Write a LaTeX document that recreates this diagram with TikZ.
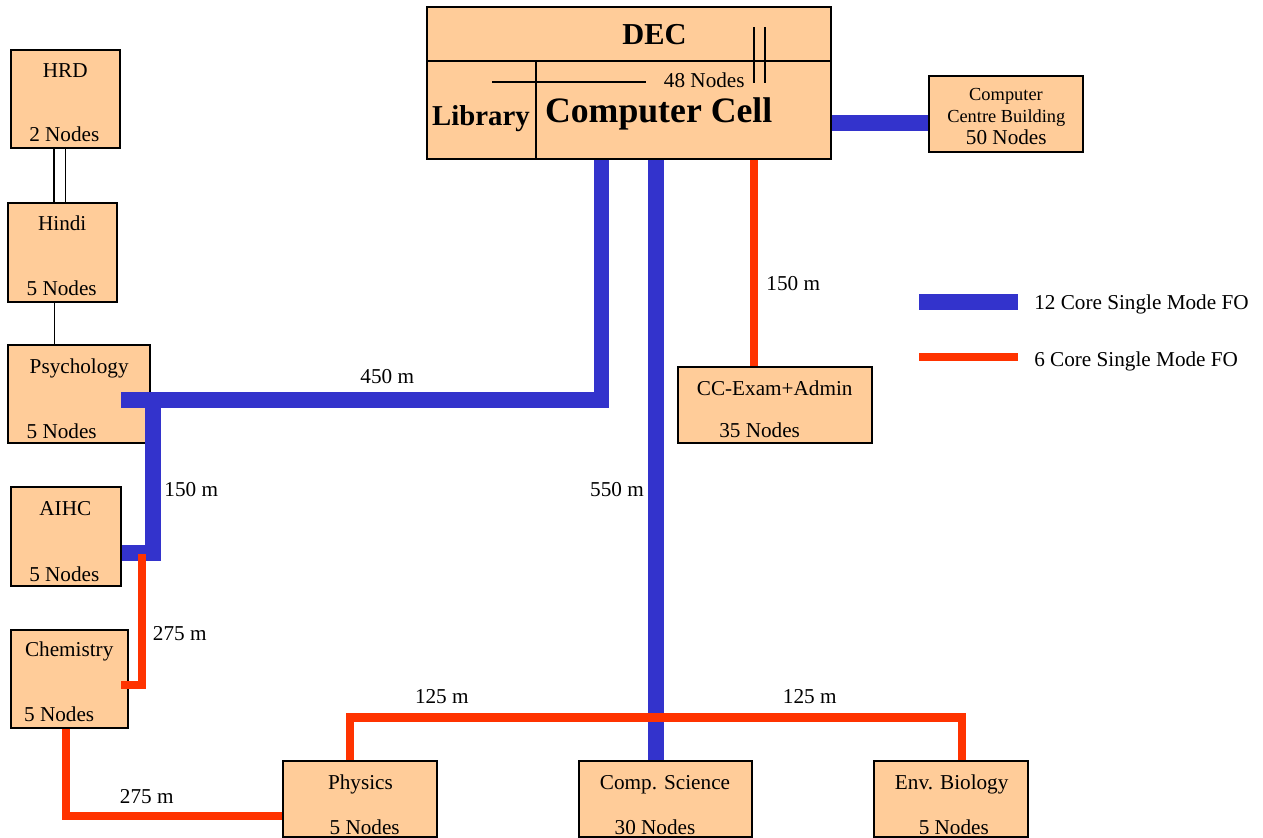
\documentclass[tikz,border=0pt]{standalone}
\usepackage{fontspec}
\setmainfont{Liberation Serif}
\newfontfamily\tnrfont{Liberation Serif}
\usetikzlibrary{fit}
\definecolor{boxfill}{HTML}{FFCC99}
\definecolor{foblue}{HTML}{3333CC}
\definecolor{fored}{HTML}{FF3300}
\tikzset{
  box/.style={draw=black, line width=1.5pt, fill=boxfill, inner sep=0pt},
  txt/.style={font=\tnrfont\fontsize{15.9}{18}\selectfont, inner sep=0pt, anchor=base},
  txts/.style={font=\tnrfont\fontsize{13.8}{16}\selectfont, inner sep=0pt, anchor=base},
  fotwelve/.style={draw=foblue, line width=11.7pt},
  fosix/.style={draw=fored, line width=6.2pt},
  thinline/.style={draw=black, line width=1.2pt},
}
\begin{document}
\begin{tikzpicture}[x=0.75pt,y=-0.75pt]
\useasboundingbox (0,0) rectangle (1263,838);

% ---------- boxes ----------
\node[box, fit={(427,7)(831,159)}] (dec) {};
\node[box, fit={(11,50)(120,148)}] (hrd) {};
\node[box, fit={(8,203)(117,302)}] (hindi) {};
\node[box, fit={(8,345)(150,443)}] (psy) {};
\node[box, fit={(11,487)(121,586)}] (aihc) {};
\node[box, fit={(11,630)(128,728)}] (chem) {};
\node[box, fit={(283,761)(437,837)}] (phy) {};
\node[box, fit={(579,761)(752,837)}] (cs) {};
\node[box, fit={(874,761)(1028,837)}] (env) {};
\node[box, fit={(678,367)(872,443)}] (cc) {};
\node[box, fit={(929,76)(1083,152)}] (ccb) {};

% ---------- DEC internals ----------
\coordinate (decmidL) at (427,61);
\coordinate (decmidR) at (831,61);
\coordinate (decvT) at (536,61);
\coordinate (decvB) at (536,159);
\coordinate (declA) at (492,82.3);
\coordinate (declB) at (646,82.3);
\coordinate (decdA) at (754.3,27.3);
\coordinate (decdB) at (754.3,82.7);
\coordinate (decdC) at (765,27.3);
\coordinate (decdD) at (765,82.7);
\draw[thinline, line width=1.5pt] (decmidL) -- (decmidR);
\draw[thinline, line width=1.5pt] (decvT) -- (decvB);
\draw[thinline, line width=1.5pt] (declA) -- (declB);
\draw[thinline, line width=1.5pt] (decdA) -- (decdB);
\draw[thinline, line width=1.5pt] (decdC) -- (decdD);

% ---------- texts ----------
\node[anchor=base, inner sep=0pt, font=\tnrfont\fontsize{22.8}{26}\selectfont\bfseries] (decT) at (654.5,45) {DEC};
\node[txt] (decN) at (704.3,87.3) {48 Nodes};
\node[anchor=base, inner sep=0pt, font=\tnrfont\fontsize{21.6}{24}\selectfont\bfseries] (libT) at (481,126) {Library};
\node[anchor=base, inner sep=0pt, font=\tnrfont\fontsize{26.8}{30}\selectfont\bfseries] (ccellT) at (658.7,122.3) {Computer Cell};

\node[txt] (hrdT) at (65.3,77.3) {HRD};
\node[txt] (hrdN) at (64.3,141.7) {2 Nodes};
\node[txt] (hindiT) at (62.2,230.7) {Hindi};
\node[txt] (hindiN) at (61.7,295) {5 Nodes};
\node[txt] (psyT) at (79.2,373.3) {Psychology};
\node[txt] (psyN) at (61.7,438.3) {5 Nodes};
\node[txt] (aihcT) at (65.3,515) {AIHC};
\node[txt] (aihcN) at (64.3,581.7) {5 Nodes};
\node[txt] (chemT) at (69.2,656.7) {Chemistry};
\node[txt] (chemN) at (59.2,721.7) {5 Nodes};
\node[txt] (phyT) at (360.5,789) {Physics};
\node[txt] (phyN) at (364.7,834) {5 Nodes};
\node[txt] (csT) at (665,789) {Comp. Science};
\node[txt] (csN) at (655,834) {30 Nodes};
\node[txt] (envT) at (951.7,789) {Env. Biology};
\node[txt] (envN) at (953.8,834) {5 Nodes};
\node[txt] (ccT) at (774.7,395) {CC-Exam+Admin};
\node[txt] (ccN) at (759.6,437.3) {35 Nodes};
\node[txts] (ccbT1) at (1006,100.7) {Computer};
\node[txts] (ccbT2) at (1006.3,122.7) {Centre Building};
\node[txt] (ccbN) at (1006.3,145) {50 Nodes};

% distance labels
\node[txt] (d450) at (387.2,383.3) {450 m};
\node[txt] (d150a) at (191.2,496.7) {150 m};
\node[txt] (d275a) at (179.7,640) {275 m};
\node[txt] (d275b) at (146.7,803.3) {275 m};
\node[txt] (d550) at (617,496.7) {550 m};
\node[txt] (d150b) at (793.2,290) {150 m};
\node[txt] (d125a) at (441.8,703.3) {125 m};
\node[txt] (d125b) at (809.7,703.3) {125 m};

% ---------- thin links ----------
\coordinate (hhA) at (54,0);
\coordinate (hhB) at (65.3,0);
\draw[thinline] (hrd.south -| hhA) -- (hindi.north -| hhA);
\draw[thinline] (hrd.south -| hhB) -- (hindi.north -| hhB);
\coordinate (hpA) at (54.3,0);
\draw[thinline] (hindi.south -| hpA) -- (psy.north -| hpA);

% ---------- 12 core (blue) ----------
\coordinate (jDec) at (601.3,400);
\coordinate (psyIn) at (120.7,400);
\coordinate (jPsy) at (153,400);
\coordinate (jAihc) at (153,553);
\coordinate (csx) at (656,0);
\coordinate (ccby) at (0,122.8);
\draw[fotwelve] (dec.south -| jDec) -- (jDec) -- (psyIn);
\draw[fotwelve] (jPsy) -- (jAihc) -- (aihc.east |- jAihc);
\draw[fotwelve] (dec.south -| csx) -- (cs.north -| csx);
\draw[fotwelve] (dec.east |- ccby) -- (ccb.west |- ccby);

% ---------- 6 core (red) ----------
\coordinate (ccx) at (754.3,0);
\draw[fosix] (dec.south -| ccx) -- (cc.north -| ccx);
\coordinate (rA) at (141.7,554);
\coordinate (rB) at (141.7,685);
\coordinate (chemIn) at (120.7,685);
\draw[fosix] (rA) -- (rB) -- (chemIn);
\coordinate (cpx) at (65.7,816);
\draw[fosix] (chem.south -| cpx) -- (cpx) -- (phy.west |- cpx);
\coordinate (busL) at (350,717.5);
\coordinate (busR) at (962.3,717.5);
\draw[fosix] (phy.north -| busL) -- (busL) -- (busR) -- (env.north -| busR);

% ---------- legend ----------
\coordinate (lgBa) at (919,302);
\coordinate (lgBb) at (1018,302);
\coordinate (lgRa) at (919,356.7);
\coordinate (lgRb) at (1018,356.7);
\draw[fotwelve] (lgBa) -- (lgBb);
\draw[fosix] (lgRa) -- (lgRb);
\node[txt, anchor=base west] (lgBT) at (1034,309.3) {12 Core Single Mode FO};
\node[txt, anchor=base west] (lgRT) at (1034,366.7) {6 Core Single Mode FO};
\end{tikzpicture}
\end{document}
